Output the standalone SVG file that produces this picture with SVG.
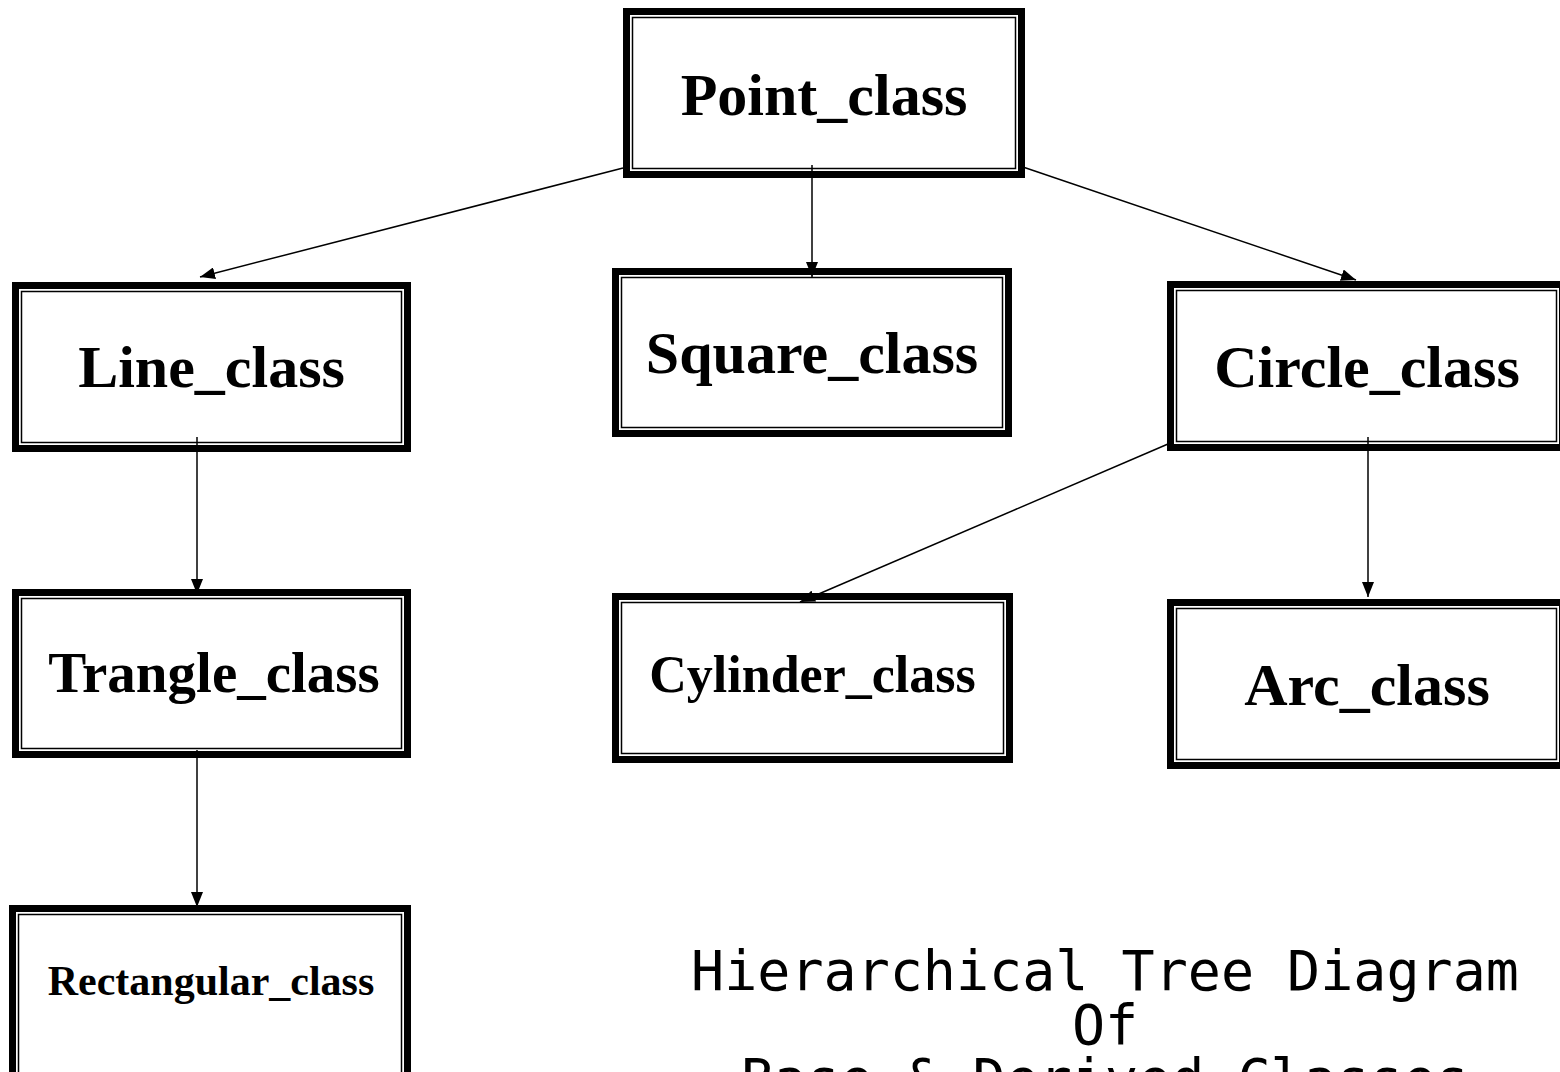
<svg xmlns="http://www.w3.org/2000/svg" width="1560" height="1072" viewBox="0 0 1560 1072">
<defs>
<style>
.outer{fill:#fff;stroke:#000;stroke-width:7}
.inner{fill:none;stroke:#000;stroke-width:1.5}
.lbl{font-family:"Liberation Serif","Times New Roman",serif;font-weight:bold;text-anchor:middle;fill:#000}
.conn{stroke:#000;stroke-width:1.5;fill:none;marker-end:url(#arr)}
.title{font-family:"DejaVu Sans Mono","Liberation Mono",monospace;font-size:55px;text-anchor:middle;fill:#000}
</style>
<marker id="arr" viewBox="0 0 15 12" refX="15" refY="6" markerWidth="15" markerHeight="12" markerUnits="userSpaceOnUse" orient="auto">
<path d="M0,0 L15,6 L0,12 z" fill="#000"/>
</marker>
</defs>
<rect width="1560" height="1072" fill="#fff"/>
<g id="node-point">
<rect class="outer" x="626.5" y="11.5" width="395" height="163"/>
<rect class="inner" x="632.5" y="17.5" width="383" height="151"/>
<text class="lbl" x="824" y="115" font-size="60">Point_class</text>
</g>
<g id="node-line">
<rect class="outer" x="15.5" y="285.5" width="392" height="163"/>
<rect class="inner" x="21.5" y="291.5" width="380" height="151"/>
<text class="lbl" x="211.5" y="387" font-size="60">Line_class</text>
</g>
<g id="node-square">
<rect class="outer" x="615.5" y="271.5" width="393" height="162"/>
<rect class="inner" x="621.5" y="277.5" width="381" height="150"/>
<text class="lbl" x="812" y="373" font-size="60">Square_class</text>
</g>
<g id="node-circle">
<rect class="outer" x="1170.5" y="284.5" width="392" height="163"/>
<rect class="inner" x="1176.5" y="290.5" width="380" height="151"/>
<text class="lbl" x="1367" y="387" font-size="60">Circle_class</text>
</g>
<g id="node-trangle">
<rect class="outer" x="15.5" y="592.5" width="392" height="162"/>
<rect class="inner" x="21.5" y="598.5" width="380" height="150"/>
<text class="lbl" x="214" y="692" font-size="57">Trangle_class</text>
</g>
<g id="node-cylinder">
<rect class="outer" x="615.5" y="596.5" width="394" height="163"/>
<rect class="inner" x="621.5" y="602.5" width="382" height="151"/>
<text class="lbl" x="812.5" y="692" font-size="52">Cylinder_class</text>
</g>
<g id="node-arc">
<rect class="outer" x="1170.5" y="602.5" width="392" height="163"/>
<rect class="inner" x="1176.5" y="608.5" width="380" height="151"/>
<text class="lbl" x="1367" y="705" font-size="60">Arc_class</text>
</g>
<g id="node-rectangular">
<rect class="outer" x="12.5" y="908.5" width="395" height="180"/>
<rect class="inner" x="18.5" y="914.5" width="383" height="168"/>
<text class="lbl" x="211" y="995" font-size="42">Rectangular_class</text>
</g>
<g id="connectors">
<line class="conn" x1="623" y1="168" x2="200" y2="277"/>
<line class="conn" x1="812" y1="165" x2="812" y2="277"/>
<line class="conn" x1="1020" y1="166" x2="1356" y2="280"/>
<line class="conn" x1="197" y1="437" x2="197" y2="594"/>
<line class="conn" x1="197" y1="750" x2="197" y2="907"/>
<line class="conn" x1="1168" y1="444" x2="800" y2="602"/>
<line class="conn" x1="1368" y1="437" x2="1368" y2="597"/>
</g>
<g id="title">
<text class="title" x="1105" y="990">Hierarchical Tree Diagram</text>
<text class="title" x="1105" y="1044">Of</text>
<text class="title" x="1105" y="1098">Base &amp; Derived Classes</text>
</g>
</svg>
